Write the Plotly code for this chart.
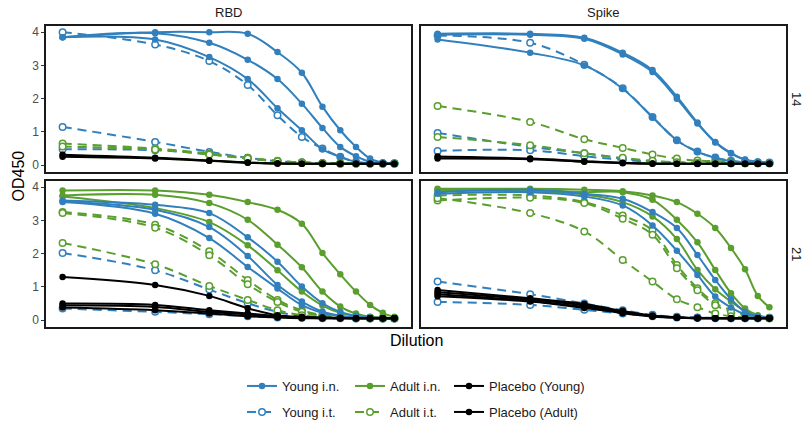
import math
import plotly.graph_objects as go

# ---------------- data ----------------
DILUTION = [1, 2, 3, 4, 5, 6, 7, 8, 9, 10, 11, 12]
ANTIGENS = ["RBD", "Spike"]
DAYS = ["14", "21"]
Y_TICKS = [0, 1, 2, 3, 4]

# RBD, day 14
RBD14_YOUNG_IN = [
    [3.85, 4.00, 4.00, 3.95, 3.40, 2.78, 1.76, 1.05, 0.55, 0.20, 0.08, 0.05],
    [3.85, 3.97, 3.68, 3.17, 2.59, 1.85, 1.12, 0.55, 0.27, 0.10, 0.06, 0.05],
    [3.85, 3.78, 3.25, 2.59, 1.71, 1.05, 0.48, 0.25, 0.10, 0.06, 0.05, 0.05],
]
RBD14_YOUNG_IT = [
    [4.00, 3.63, 3.13, 2.41, 1.50, 0.85, 0.50, 0.25, 0.10, 0.07, 0.05, 0.05],
    [1.15, 0.70, 0.40, 0.22, 0.12, 0.08, 0.06, 0.05, 0.05, 0.05, 0.05, 0.05],
    [0.48, 0.45, 0.33, 0.20, 0.12, 0.08, 0.06, 0.05, 0.05, 0.05, 0.05, 0.05],
]
RBD14_ADULT_IN = [
    [0.28, 0.21, 0.13, 0.08, 0.05, 0.04, 0.04, 0.04, 0.04, 0.04, 0.04, 0.04],
]
RBD14_ADULT_IT = [
    [0.65, 0.50, 0.35, 0.22, 0.13, 0.08, 0.06, 0.05, 0.05, 0.05, 0.05, 0.05],
    [0.56, 0.47, 0.32, 0.20, 0.12, 0.08, 0.06, 0.05, 0.05, 0.05, 0.05, 0.05],
]
RBD14_PLACEBO_YOUNG = [
    [0.31, 0.22, 0.14, 0.08, 0.05, 0.04, 0.04, 0.04, 0.04, 0.04, 0.04, 0.04],
]
RBD14_PLACEBO_ADULT = [
    [0.25, 0.20, 0.13, 0.07, 0.05, 0.04, 0.04, 0.04, 0.04, 0.04, 0.04, 0.04],
]

# Spike, day 14
SPIKE14_YOUNG_IN = [
    [3.95, 3.95, 3.83, 3.38, 2.86, 2.06, 1.28, 0.68, 0.35, 0.17, 0.10, 0.08],
    [3.92, 3.92, 3.80, 3.33, 2.80, 2.00, 1.25, 0.70, 0.37, 0.16, 0.10, 0.08],
    [3.78, 3.38, 3.00, 2.30, 1.44, 0.75, 0.40, 0.22, 0.12, 0.08, 0.07, 0.06],
]
SPIKE14_YOUNG_IT = [
    [3.90, 3.68, 3.02, 2.31, 1.45, 0.75, 0.41, 0.23, 0.13, 0.10, 0.09, 0.08],
    [0.97, 0.55, 0.36, 0.20, 0.12, 0.08, 0.07, 0.06, 0.06, 0.06, 0.06, 0.06],
    [0.43, 0.45, 0.27, 0.16, 0.10, 0.07, 0.06, 0.06, 0.06, 0.06, 0.06, 0.06],
]
SPIKE14_ADULT_IN = [
    [0.24, 0.19, 0.11, 0.07, 0.05, 0.04, 0.04, 0.04, 0.04, 0.04, 0.04, 0.04],
]
SPIKE14_ADULT_IT = [
    [1.78, 1.30, 0.78, 0.52, 0.32, 0.20, 0.14, 0.12, 0.12, 0.08, 0.07, 0.06],
    [0.85, 0.60, 0.36, 0.22, 0.13, 0.09, 0.07, 0.06, 0.06, 0.06, 0.06, 0.06],
]
SPIKE14_PLACEBO_YOUNG = [
    [0.26, 0.20, 0.12, 0.07, 0.05, 0.04, 0.04, 0.04, 0.04, 0.04, 0.04, 0.04],
]
SPIKE14_PLACEBO_ADULT = [
    [0.20, 0.18, 0.10, 0.06, 0.04, 0.04, 0.04, 0.04, 0.04, 0.04, 0.04, 0.04],
]

# RBD, day 21
RBD21_YOUNG_IN = [
    [3.60, 3.47, 3.22, 2.49, 1.76, 1.01, 0.51, 0.25, 0.13, 0.08, 0.07, 0.06],
    [3.57, 3.32, 2.80, 1.93, 1.06, 0.56, 0.26, 0.13, 0.08, 0.07, 0.06, 0.06],
    [3.55, 3.20, 2.47, 1.60, 0.95, 0.45, 0.22, 0.12, 0.08, 0.07, 0.06, 0.06],
]
RBD21_YOUNG_IT = [
    [2.02, 1.50, 0.92, 0.51, 0.25, 0.12, 0.08, 0.07, 0.06, 0.06, 0.05, 0.05],
    [0.35, 0.25, 0.18, 0.12, 0.08, 0.07, 0.06, 0.06, 0.05, 0.05, 0.05, 0.05],
]
RBD21_ADULT_IN = [
    [3.90, 3.90, 3.77, 3.55, 3.32, 2.90, 2.02, 1.38, 0.86, 0.46, 0.22, 0.10],
    [3.75, 3.77, 3.52, 3.02, 2.27, 1.59, 0.86, 0.41, 0.20, 0.10, 0.08, 0.07],
    [3.72, 3.37, 2.95, 2.25, 1.50, 0.86, 0.44, 0.22, 0.12, 0.08, 0.07, 0.06],
]
RBD21_ADULT_IT = [
    [3.25, 2.87, 2.07, 1.21, 0.61, 0.30, 0.15, 0.10, 0.08, 0.07, 0.06, 0.06],
    [3.22, 2.78, 1.95, 1.08, 0.55, 0.25, 0.13, 0.09, 0.07, 0.06, 0.06, 0.06],
    [2.32, 1.68, 1.03, 0.61, 0.30, 0.15, 0.10, 0.08, 0.07, 0.06, 0.06, 0.06],
]
RBD21_PLACEBO_YOUNG = [
    [1.30, 1.06, 0.73, 0.36, 0.15, 0.10, 0.08, 0.07, 0.06, 0.06, 0.06, 0.06],
    [0.45, 0.40, 0.25, 0.17, 0.10, 0.07, 0.06, 0.06, 0.06, 0.06, 0.06, 0.06],
]
RBD21_PLACEBO_ADULT = [
    [0.50, 0.46, 0.30, 0.20, 0.12, 0.08, 0.07, 0.06, 0.06, 0.06, 0.06, 0.06],
    [0.38, 0.30, 0.20, 0.12, 0.08, 0.06, 0.06, 0.06, 0.06, 0.06, 0.06, 0.06],
]

# Spike, day 21
SPIKE21_YOUNG_IN = [
    [3.85, 3.92, 3.80, 3.65, 3.25, 2.77, 1.96, 1.21, 0.63, 0.25, 0.12, 0.08],
    [3.80, 3.85, 3.72, 3.45, 2.85, 2.09, 1.36, 0.71, 0.38, 0.18, 0.10, 0.07],
]
SPIKE21_YOUNG_IT = [
    [1.16, 0.78, 0.50, 0.30, 0.16, 0.10, 0.08, 0.07, 0.06, 0.06, 0.06, 0.06],
    [0.55, 0.46, 0.31, 0.20, 0.12, 0.08, 0.07, 0.06, 0.06, 0.06, 0.06, 0.06],
]
SPIKE21_ADULT_IN = [
    [3.95, 3.95, 3.92, 3.88, 3.75, 3.55, 3.20, 2.77, 2.17, 1.53, 0.73, 0.39],
    [3.92, 3.92, 3.85, 3.85, 3.62, 3.02, 2.34, 1.51, 0.81, 0.35, 0.15, 0.08],
    [3.90, 3.88, 3.78, 3.55, 3.12, 2.44, 1.51, 0.93, 0.56, 0.28, 0.12, 0.07],
]
SPIKE21_ADULT_IT = [
    [3.75, 3.75, 3.55, 3.15, 2.70, 1.66, 0.96, 0.51, 0.30, 0.15, 0.08, 0.07],
    [3.60, 3.68, 3.52, 3.05, 2.57, 1.56, 0.90, 0.45, 0.25, 0.12, 0.08, 0.07],
    [3.67, 3.22, 2.67, 1.81, 1.16, 0.63, 0.39, 0.20, 0.12, 0.08, 0.07, 0.06],
]
SPIKE21_PLACEBO_YOUNG = [
    [0.91, 0.66, 0.49, 0.28, 0.14, 0.09, 0.07, 0.06, 0.06, 0.06, 0.06, 0.06],
    [0.84, 0.62, 0.44, 0.25, 0.12, 0.08, 0.06, 0.06, 0.06, 0.06, 0.06, 0.06],
]
SPIKE21_PLACEBO_ADULT = [
    [0.78, 0.58, 0.40, 0.23, 0.12, 0.08, 0.06, 0.06, 0.06, 0.06, 0.06, 0.06],
    [0.72, 0.56, 0.37, 0.21, 0.11, 0.07, 0.06, 0.06, 0.06, 0.06, 0.06, 0.06],
]

GROUP_NAMES = ["Young i.n.", "Young i.t.", "Adult i.n.", "Adult i.t.",
               "Placebo (Young)", "Placebo (Adult)"]

PANEL_DATA = {
    ("RBD", "14"): [RBD14_YOUNG_IN, RBD14_YOUNG_IT, RBD14_ADULT_IN, RBD14_ADULT_IT,
                    RBD14_PLACEBO_YOUNG, RBD14_PLACEBO_ADULT],
    ("Spike", "14"): [SPIKE14_YOUNG_IN, SPIKE14_YOUNG_IT, SPIKE14_ADULT_IN, SPIKE14_ADULT_IT,
                      SPIKE14_PLACEBO_YOUNG, SPIKE14_PLACEBO_ADULT],
    ("RBD", "21"): [RBD21_YOUNG_IN, RBD21_YOUNG_IT, RBD21_ADULT_IN, RBD21_ADULT_IT,
                    RBD21_PLACEBO_YOUNG, RBD21_PLACEBO_ADULT],
    ("Spike", "21"): [SPIKE21_YOUNG_IN, SPIKE21_YOUNG_IT, SPIKE21_ADULT_IN, SPIKE21_ADULT_IT,
                      SPIKE21_PLACEBO_YOUNG, SPIKE21_PLACEBO_ADULT],
}

# ---------------- styles ----------------
W, H = 808, 428
BLUE = "#3180bd"
GREEN = "#5a9f2e"
BLACK = "#000000"
FONT = "Liberation Sans, Arial, sans-serif"
DASH = "9px,6px"

STYLE = {
    "Young i.n.": dict(color=BLUE, dash="solid", open=False),
    "Young i.t.": dict(color=BLUE, dash=DASH, open=True),
    "Adult i.n.": dict(color=GREEN, dash="solid", open=False),
    "Adult i.t.": dict(color=GREEN, dash=DASH, open=True),
    "Placebo (Young)": dict(color=BLACK, dash="solid", open=False),
    "Placebo (Adult)": dict(color=BLACK, dash="solid", open=False),
}
DRAW_ORDER = ["Young i.t.", "Adult i.t.", "Adult i.n.", "Young i.n.",
              "Placebo (Adult)", "Placebo (Young)"]
LEGEND_OF = {"Young i.n.": "legend", "Young i.t.": "legend2",
             "Adult i.n.": "legend3", "Adult i.t.": "legend4",
             "Placebo (Young)": "legend5", "Placebo (Adult)": "legend6"}

# panel boxes in pixels (left, right, top, bottom)
COL_X = [(46, 411), (421, 786)]
ROW_Y = [(26, 172), (181, 327)]

def px_x(v):
    return v / W

def px_y(v):
    return 1 - v / H

fig = go.Figure()
axis_ids = {}
k = 0
for r, day in enumerate(DAYS):
    for c, ag in enumerate(ANTIGENS):
        k += 1
        axis_ids[(ag, day)] = ("x" if k == 1 else f"x{k}", "y" if k == 1 else f"y{k}", k, r, c)

shown = set()
for (ag, day), groups in PANEL_DATA.items():
    xa, ya, k, r, c = axis_ids[(ag, day)]
    gmap = dict(zip(GROUP_NAMES, groups))
    for gname in DRAW_ORDER:
        st = STYLE[gname]
        for series in gmap[gname]:
            show = gname not in shown
            shown.add(gname)
            marker = dict(size=6.5, color=st["color"])
            if st["open"]:
                marker = dict(size=6.5, color="white", line=dict(color=st["color"], width=1.5))
            fig.add_trace(go.Scatter(
                x=DILUTION, y=series, mode="lines+markers",
                line=dict(color=st["color"], width=2.0, dash=st["dash"], shape="spline", smoothing=1.0),
                marker=marker, name=gname, showlegend=show,
                legend=LEGEND_OF[gname], xaxis=xa, yaxis=ya,
            ))

XR = [-0.05 * math.log10(12), math.log10(12) * 1.05]
YR = [-0.205, 4.185]

layout = dict(
    width=W, height=H, margin=dict(l=0, r=0, t=0, b=0),
    paper_bgcolor="white", plot_bgcolor="white",
    font=dict(family=FONT, color="#1a1a1a", size=12),
)
for (ag, day), (xa, ya, k, r, c) in axis_ids.items():
    xkey = "xaxis" if k == 1 else f"xaxis{k}"
    ykey = "yaxis" if k == 1 else f"yaxis{k}"
    layout[xkey] = dict(
        domain=[px_x(COL_X[c][0]), px_x(COL_X[c][1])], type="log", range=XR,
        showticklabels=False, ticks="", showgrid=False, zeroline=False,
        showline=True, mirror=True, linecolor="#1a1a1a", linewidth=1.5,
        anchor=ya, fixedrange=True,
    )
    layout[ykey] = dict(
        domain=[px_y(ROW_Y[r][1]), px_y(ROW_Y[r][0])], range=YR,
        tickvals=Y_TICKS, ticktext=[str(t) for t in Y_TICKS],
        showticklabels=(c == 0), ticks="outside" if c == 0 else "", ticklen=3,
        tickcolor="#333333", tickwidth=1,
        tickfont=dict(size=12, color="#4d4d4d"),
        showgrid=False, zeroline=False,
        showline=True, mirror=True, linecolor="#1a1a1a", linewidth=1.5,
        anchor=xa, fixedrange=True,
    )

# legends: 3 columns x 2 rows
LEG_TEXT_X = [284, 392, 491]
LEG_ROW_Y = [386, 412]
leg_pos = {
    "legend": (0, 0), "legend2": (0, 1),
    "legend3": (1, 0), "legend4": (1, 1),
    "legend5": (2, 0), "legend6": (2, 1),
}
for key, (col, row) in leg_pos.items():
    layout[key] = dict(
        x=px_x(LEG_TEXT_X[col] - 42), y=px_y(LEG_ROW_Y[row]),
        xanchor="left", yanchor="middle", orientation="v",
        bgcolor="rgba(0,0,0,0)", borderwidth=0,
        font=dict(size=13, color="#1a1a1a", family=FONT),
    )

fig.update_layout(**layout)

ann = []
for c, ag in enumerate(ANTIGENS):
    ann.append(dict(text=ag, x=px_x((COL_X[c][0] + COL_X[c][1]) / 2), y=px_y(12),
                    xref="paper", yref="paper", showarrow=False,
                    xanchor="center", yanchor="middle",
                    font=dict(size=13, color="#1a1a1a")))
for r, day in enumerate(DAYS):
    ann.append(dict(text=day, x=px_x(797), y=px_y((ROW_Y[r][0] + ROW_Y[r][1]) / 2),
                    xref="paper", yref="paper", showarrow=False, textangle=90,
                    xanchor="center", yanchor="middle",
                    font=dict(size=13, color="#1a1a1a")))
ann.append(dict(text="OD450", x=px_x(18), y=px_y((ROW_Y[0][0] + ROW_Y[1][1]) / 2),
                xref="paper", yref="paper", showarrow=False, textangle=-90,
                xanchor="center", yanchor="middle",
                font=dict(size=16, color="#000000")))
ann.append(dict(text="Dilution", x=px_x((COL_X[0][0] + COL_X[1][1]) / 2), y=px_y(340),
                xref="paper", yref="paper", showarrow=False,
                xanchor="center", yanchor="middle",
                font=dict(size=16, color="#000000")))
fig.update_layout(annotations=ann)

fig.write_html("out.html", config={"displayModeBar": False},
               post_script="document.body.style.margin='0';document.body.style.overflow='hidden';")
